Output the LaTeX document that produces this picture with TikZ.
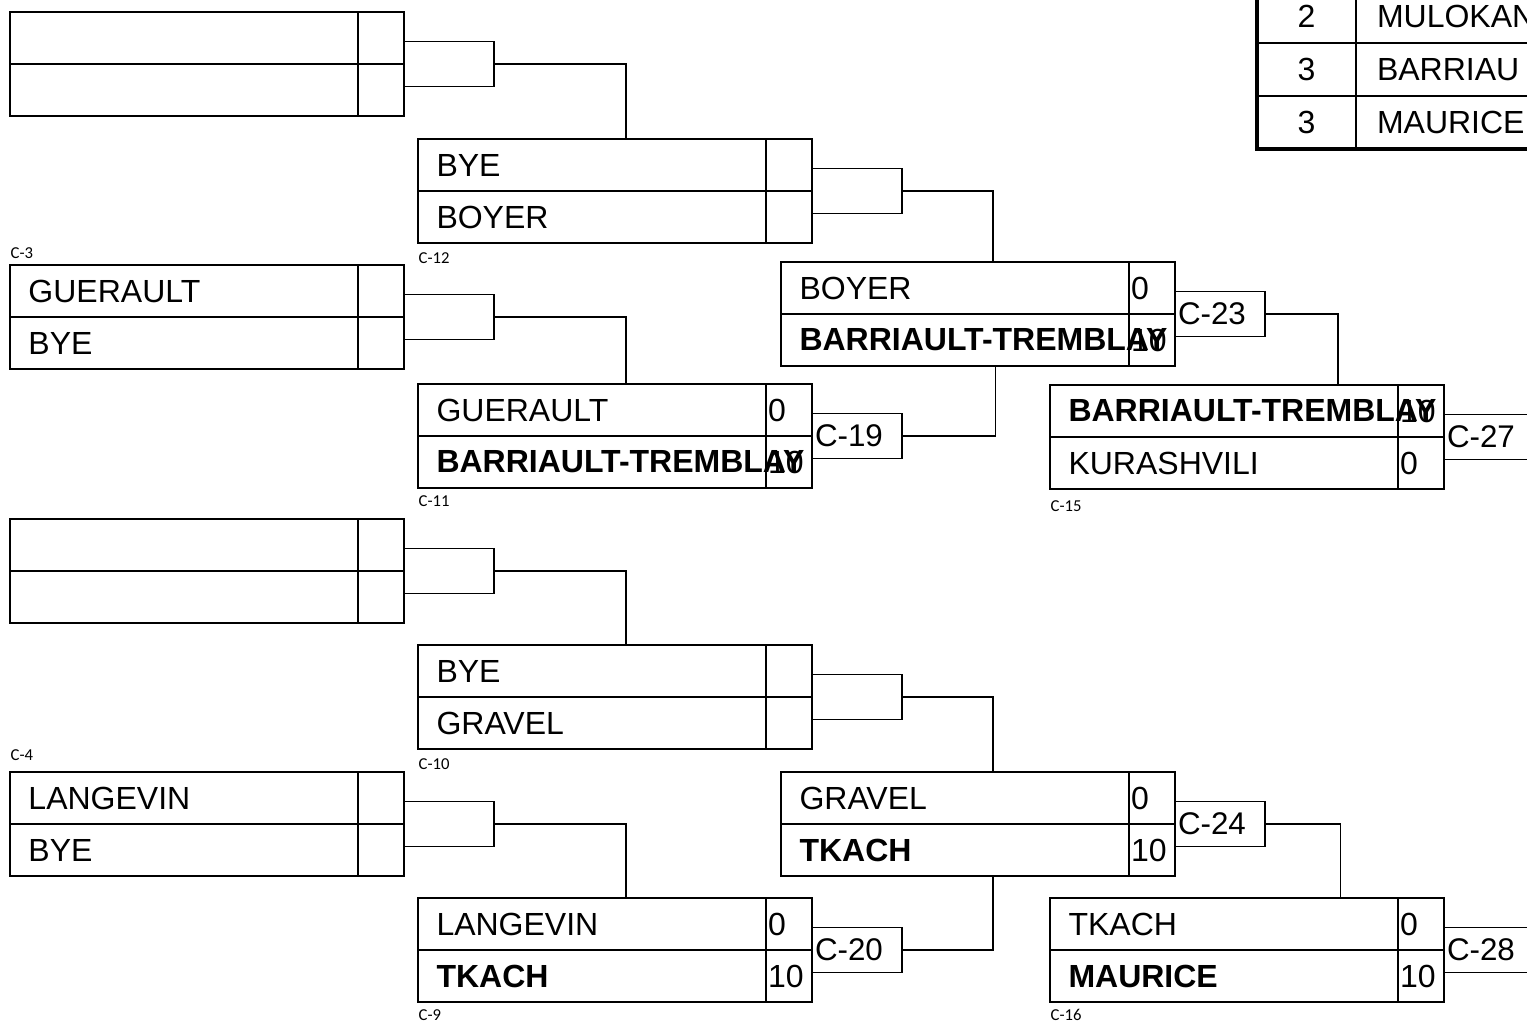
\documentclass[tikz,border=0pt]{standalone}
\usepackage{fontspec}
\setmainfont{Liberation Sans}
\newfontfamily\tagfont{Carlito}
\usetikzlibrary{positioning}
\hyphenpenalty=10000
\exhyphenpenalty=10000

\begin{document}
\begin{tikzpicture}[
    x=0.75pt, y=-0.75pt,
    line width=1.1pt,
    namecell/.style = {rectangle, draw, outer sep=0pt, text width=233.25pt, inner xsep=13.875pt, inner ysep=0pt, minimum height=39pt, align=left, font=\fontsize{24}{28}\selectfont},
    scorecell/.style = {rectangle, draw, outer sep=0pt, text width=31.5pt, inner xsep=1.5pt, inner ysep=0pt, minimum height=39pt, align=left, font=\fontsize{24}{28}\selectfont},
    conn/.style = {rectangle, draw, outer sep=0pt, text width=63pt, inner xsep=2.25pt, inner ysep=0pt, minimum height=33.75pt, align=left, font=\fontsize{23.5}{28}\selectfont},
    tag/.style = {inner sep=0pt, font=\tagfont\fontsize{12.5}{14}\selectfont},
    tabnum/.style = {rectangle, draw, outer sep=0pt, minimum width=74.25pt, minimum height=39.75pt, inner sep=0pt, font=\fontsize{24}{28}\selectfont},
    tabname/.style = {rectangle, draw, outer sep=0pt, text width=240pt, inner xsep=15.75pt, inner ysep=0pt, minimum height=39.75pt, align=left, font=\fontsize{24}{28}\selectfont}]

    \useasboundingbox (0,0) rectangle (1527,1025);
    \clip (0,0) rectangle (1527,1025);

    % first round
    \node[namecell, anchor=north west] (e1a) at (10,12) {};
    \node[scorecell, right=0pt of e1a] (e1as) {};
    \node[namecell, below=0pt of e1a] (e1b) {};
    \node[scorecell, right=0pt of e1b] (e1bs) {};

    \node[namecell, anchor=north west] (c3a) at (10,265) {GUERAULT};
    \node[scorecell, right=0pt of c3a] (c3as) {};
    \node[namecell, below=0pt of c3a] (c3b) {BYE};
    \node[scorecell, right=0pt of c3b] (c3bs) {};

    \node[namecell, anchor=north west] (e2a) at (10,519) {};
    \node[scorecell, right=0pt of e2a] (e2as) {};
    \node[namecell, below=0pt of e2a] (e2b) {};
    \node[scorecell, right=0pt of e2b] (e2bs) {};

    \node[namecell, anchor=north west] (c4a) at (10,772) {LANGEVIN};
    \node[scorecell, right=0pt of c4a] (c4as) {};
    \node[namecell, below=0pt of c4a] (c4b) {BYE};
    \node[scorecell, right=0pt of c4b] (c4bs) {};

    % second round
    \node[namecell, anchor=north west] (c12a) at (418,139) {BYE};
    \node[scorecell, right=0pt of c12a] (c12as) {};
    \node[namecell, below=0pt of c12a] (c12b) {BOYER};
    \node[scorecell, right=0pt of c12b] (c12bs) {};

    \node[namecell, anchor=north west] (c11a) at (418,384) {GUERAULT};
    \node[scorecell, right=0pt of c11a] (c11as) {0};
    \node[namecell, below=0pt of c11a] (c11b) {\textbf{BARRIAULT-TREMBLAY}};
    \node[scorecell, right=0pt of c11b] (c11bs) {10};

    \node[namecell, anchor=north west] (c10a) at (418,645) {BYE};
    \node[scorecell, right=0pt of c10a] (c10as) {};
    \node[namecell, below=0pt of c10a] (c10b) {GRAVEL};
    \node[scorecell, right=0pt of c10b] (c10bs) {};

    \node[namecell, anchor=north west] (c9a) at (418,898) {LANGEVIN};
    \node[scorecell, right=0pt of c9a] (c9as) {0};
    \node[namecell, below=0pt of c9a] (c9b) {\textbf{TKACH}};
    \node[scorecell, right=0pt of c9b] (c9bs) {10};

    % third round
    \node[namecell, anchor=north west] (q1a) at (781,262) {BOYER};
    \node[scorecell, right=0pt of q1a] (q1as) {0};
    \node[namecell, below=0pt of q1a] (q1b) {\textbf{BARRIAULT-TREMBLAY}};
    \node[scorecell, right=0pt of q1b] (q1bs) {10};

    \node[namecell, anchor=north west] (q2a) at (781,772) {GRAVEL};
    \node[scorecell, right=0pt of q2a] (q2as) {0};
    \node[namecell, below=0pt of q2a] (q2b) {\textbf{TKACH}};
    \node[scorecell, right=0pt of q2b] (q2bs) {10};

    % fourth round
    \node[namecell, anchor=north west] (c15a) at (1050,385) {\textbf{BARRIAULT-TREMBLAY}};
    \node[scorecell, right=0pt of c15a] (c15as) {10};
    \node[namecell, below=0pt of c15a] (c15b) {KURASHVILI};
    \node[scorecell, right=0pt of c15b] (c15bs) {0};

    \node[namecell, anchor=north west] (c16a) at (1050,898) {TKACH};
    \node[scorecell, right=0pt of c16a] (c16as) {0};
    \node[namecell, below=0pt of c16a] (c16b) {\textbf{MAURICE}};
    \node[scorecell, right=0pt of c16b] (c16bs) {10};

    % match tags
    \node[tag, above right=4pt and 0pt of c3a.north west] (l3) {C-3};
    \node[tag, above right=8pt and 0pt of c4a.north west] (l4) {C-4};
    \node[tag, below right=6.5pt and 0pt of c12b.south west] (l12) {C-12};
    \node[tag, below right=5.5pt and 0pt of c11b.south west] (l11) {C-11};
    \node[tag, below right=6.5pt and 0pt of c10b.south west] (l10) {C-10};
    \node[tag, below right=5pt and 0pt of c9b.south west] (l9) {C-9};
    \node[tag, below right=8.5pt and 0pt of c15b.south west] (l15) {C-15};
    \node[tag, below right=5pt and 0pt of c16b.south west] (l16) {C-16};

    % connectors
    \node[conn, right=0pt of e1as.south east] (k1) {};
    \node[conn, right=0pt of c3as.south east] (k2) {};
    \node[conn, right=0pt of e2as.south east] (k3) {};
    \node[conn, right=0pt of c4as.south east] (k4) {};
    \node[conn, right=0pt of c12as.south east] (k5) {};
    \node[conn, right=0pt of c11as.south east] (k19) {C-19};
    \node[conn, right=0pt of c10as.south east] (k6) {};
    \node[conn, right=0pt of c9as.south east] (k20) {C-20};
    \node[conn, right=0pt of q1as.south east] (k23) {C-23};
    \node[conn, right=0pt of q2as.south east] (k24) {C-24};
    \node[conn, right=0pt of c15as.south east] (k27) {C-27};
    \node[conn, right=0pt of c16as.south east] (k28) {C-28};

    \draw (k1.east) -| ([xshift=156pt]c12a.north west);
    \draw (k2.east) -| ([xshift=156pt]c11a.north west);
    \draw (k3.east) -| ([xshift=156pt]c10a.north west);
    \draw (k4.east) -| ([xshift=156pt]c9a.north west);
    \draw (k5.east) -| ([xshift=159pt]q1a.north west);
    \draw (k19.east) -| ([xshift=161pt]q1b.south west);
    \draw (k6.east) -| ([xshift=159pt]q2a.north west);
    \draw (k20.east) -| ([xshift=159pt]q2b.south west);
    \draw (k23.east) -| ([xshift=216pt]c15a.north west);
    \draw (k24.east) -| ([xshift=218pt]c16a.north west);

    % standings
    \node[tabnum, anchor=north west] (t1n) at (1257,-10) {2};
    \node[tabname, right=0pt of t1n] (t1p) {MULOKAN};
    \node[tabnum, below=0pt of t1n] (t2n) {3};
    \node[tabname, right=0pt of t2n] (t2p) {BARRIAU};
    \node[tabnum, below=0pt of t2n] (t3n) {3};
    \node[tabname, right=0pt of t3n] (t3p) {MAURICE};
    \draw[line width=2.5pt] (t1n.north west) -- (t3n.south west) -- (t3p.south east);
\end{tikzpicture}
\end{document}
